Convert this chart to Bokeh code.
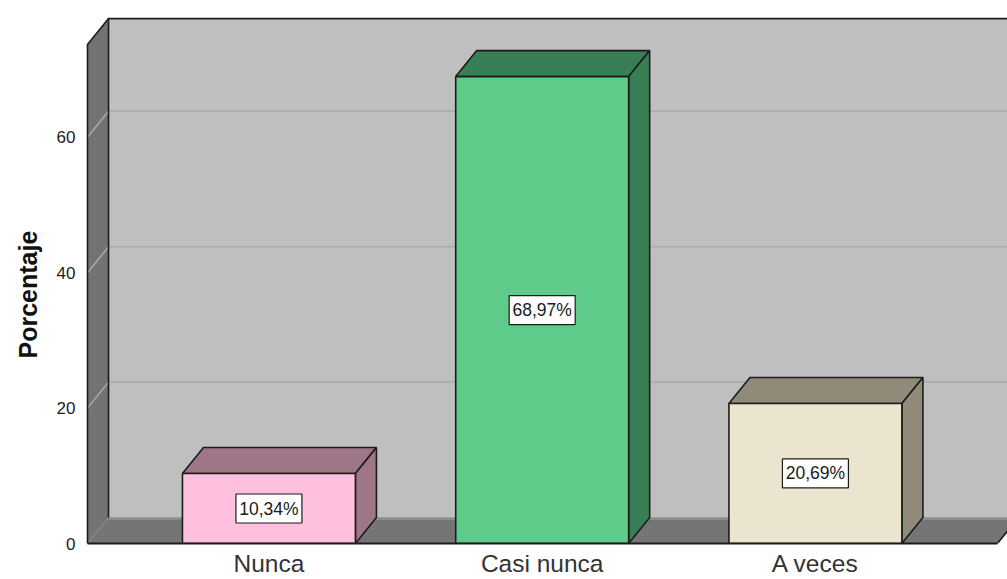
from bokeh.plotting import figure
from bokeh.models import Range1d, FixedTicker, Title
from bokeh.embed import file_html
from bokeh.resources import INLINE
from bokeh.core.properties import value

categories = ["Nunca", "Casi nunca", "A veces"]
percent = [10.34, 68.97, 20.69]
labels = ["10,34%", "68,97%", "20,69%"]
front_colors = ["#FFBFDF", "#5ECB8B", "#EBE5CF"]
dark_colors = ["#9E7688", "#397F55", "#8F8B78"]
y_ticks = [0, 20, 40, 60]
y_title = "Porcentaje"

FONT = "Liberation Sans"
BAR_W = 0.633
DX, DY = 0.0769, 3.84
X0, X1, YTOP = -0.664, 2.666, 73.7
EDGE = "#1c1c1c"

p = figure(width=1007, height=579, output_backend="svg", toolbar_location=None,
           x_range=Range1d(-0.675, 2.703), y_range=Range1d(0, 78.29),
           min_border_left=84, min_border_right=0, min_border_top=13, min_border_bottom=36)
p.outline_line_color = None
p.grid.visible = False

# walls and floor
p.patch([X0 + DX, X1 + DX * 2, X1 + DX * 2, X0 + DX], [DY, DY, YTOP + DY, YTOP + DY],
        fill_color="#BFBFBF", line_color=None)
p.patch([X0, X0 + DX, X0 + DX, X0], [0, DY, YTOP + DY, YTOP],
        fill_color="#737373", line_color=None)
p.patch([X0, X1, X1 + DX, X0 + DX], [0, 0, DY, DY],
        fill_color="#757575", line_color=None)
p.line([X0 + DX, X1 + DX], [DY - 0.2, DY - 0.2], line_color="#8C8C8C", line_width=2.5)

# gridlines
grid_vals = y_ticks[1:]
p.multi_line([[X0, X0 + DX, X1 + DX * 2] for _ in grid_vals],
             [[v, v + DY, v + DY] for v in grid_vals],
             line_color="#ABABAB", line_width=1.5)
p.line([X0, X0 + DX], [0, DY], line_color="#8C8C8C", line_width=1)

# frame edges
p.line([X0 + DX, X0 + DX], [DY, YTOP + DY], line_color=EDGE, line_width=1.6)
p.line([X0, X0, X0 + DX, X1 + DX * 2], [0, YTOP, YTOP + DY, YTOP + DY], line_color=EDGE, line_width=1.6)
p.line([X1, X1 + DX], [0, DY], line_color=EDGE, line_width=1.6)

# bars
for i, v in enumerate(percent):
    l, r = i - BAR_W / 2, i + BAR_W / 2
    p.patch([l, l + DX, r + DX, r], [v, v + DY, v + DY, v],
            fill_color=dark_colors[i], line_color=EDGE, line_width=1.6)
    p.patch([r, r + DX, r + DX, r], [0, DY, v + DY, v],
            fill_color=dark_colors[i], line_color=EDGE, line_width=1.6)
    p.patch([l, r, r, l], [0, 0, v, v],
            fill_color=front_colors[i], line_color=EDGE, line_width=1.6)

# value labels
xs = list(range(len(categories)))
mids = [v / 2 for v in percent]
p.rect(xs, mids, width=66, height=29, width_units="screen", height_units="screen",
       fill_color="white", line_color=EDGE, line_width=1.2)
p.text(xs, mids, text=labels, text_align="center", text_baseline="middle",
       text_font=value(FONT), text_font_size="17.5px", text_color="#1a1a1a")

# axes
p.xaxis.ticker = FixedTicker(ticks=xs)
p.xaxis.major_label_overrides = {i: c for i, c in enumerate(categories)}
p.xaxis.bounds = (X0, X1)
p.xaxis.axis_line_color = EDGE
p.xaxis.axis_line_width = 2
p.xaxis.major_tick_line_color = None
p.xaxis.minor_tick_line_color = None
p.xaxis.major_label_text_font = FONT
p.xaxis.major_label_text_font_size = "24.5px"
p.xaxis.major_label_text_color = "#333333"
p.xaxis.major_label_standoff = 0

p.yaxis.ticker = FixedTicker(ticks=y_ticks)
p.yaxis.axis_line_color = None
p.yaxis.major_tick_line_color = None
p.yaxis.minor_tick_line_color = None
p.yaxis.major_label_text_font = FONT
p.yaxis.major_label_text_font_size = "17px"
p.yaxis.major_label_text_color = "#222222"
p.yaxis.major_label_standoff = 3

# y title placed below the frame centre, as in the reference
p.add_layout(Title(text=y_title, align="left", offset=185, standoff=20, vertical_align="top",
                   text_font=FONT, text_font_size="25px", text_font_style="bold",
                   text_color="#111111"), "left")

open("out.html", "w").write(file_html(p, INLINE))
